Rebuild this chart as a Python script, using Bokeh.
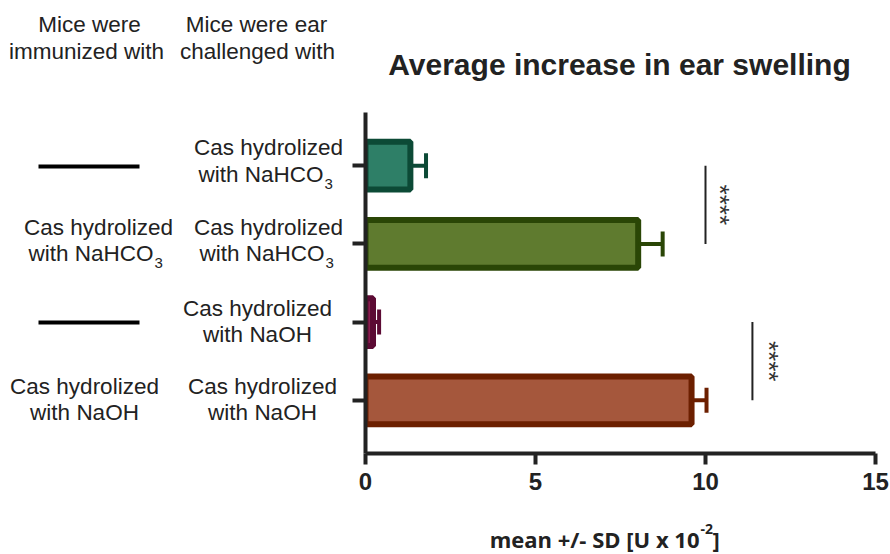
import math
from bokeh.plotting import figure
from bokeh.layouts import column, row
from bokeh.models import Range1d, FixedTicker
from bokeh.core.properties import value
from bokeh.embed import file_html
from bokeh.resources import INLINE

# ---------------- data ----------------
title_text = "Average increase in ear swelling"
header_immunized = ["Mice were", "immunized with"]
header_challenged = ["Mice were ear", "challenged with"]
immunized = ["-", "NaHCO", "-", "NaOH"]          # "-" = not immunized (drawn as a dash)
challenged = ["NaHCO", "NaHCO", "NaOH", "NaOH"]
ypos = [3, 2, 1, 0]
means = [1.32, 8.02, 0.22, 9.59]
sds = [0.46, 0.72, 0.18, 0.44]
fill_colors = ["#2e7f67", "#5f7b2f", "#8a1e4e", "#a5573c"]
line_colors = ["#0c4a36", "#2a4606", "#5c0b34", "#6c1f00"]
x_ticks = [0, 5, 10, 15]
x_title = "mean +/- SD [U x 10"
x_title_sup = "-2"
sig_pairs = [(3, 2, 10.0, 10.42), (1, 0, 11.38, 11.88)]
sig_text = "****"

FONT = "Liberation Sans"
TXT = "#222222"
AX = "#222222"
W, H = 890, 554
TOP, SPLIT, BOT = 112, 345, 509   # top strip height, left panel width, bottom strip start
FRAME_BOTTOM = 453


def blank(width, height, x0, x1, y0, y1, border_bottom=0):
    f = figure(width=width, height=height, output_backend="svg", toolbar_location=None,
               x_range=Range1d(x0, x1), y_range=Range1d(y1, y0),
               min_border=0, min_border_bottom=border_bottom,
               x_axis_type=None, y_axis_type=None)
    f.title.visible = False
    f.outline_line_color = None
    f.xgrid.visible = False
    f.ygrid.visible = False
    return f


def txt(f, x, y, s, size=22.5, align="center", style="normal", font=FONT, color=TXT):
    # y is the wanted baseline in page pixels
    f.text(x=[x], y=[y - 0.38 * size], text=[s], text_align=align,
           text_baseline="alphabetic", text_font=value(font),
           text_font_size="%spx" % size, text_font_style=style, text_color=color)


# ---------------- top strip: title + column headers ----------------
top = blank(W, TOP, 0, W, 0, TOP)
txt(top, 619, 75, title_text, size=30, style="bold")
txt(top, 89, 33, header_immunized[0])
txt(top, 86, 60, header_immunized[1])
txt(top, 256, 33, header_challenged[0])
txt(top, 257, 60, header_challenged[1])

# ---------------- left panel: group descriptions ----------------
left = blank(SPLIT, BOT - TOP, 0, SPLIT, TOP, FRAME_BOTTOM, border_bottom=BOT - FRAME_BOTTOM)
col2_cx = [268, 268, 257, 262]
col1_cx = [98, 98, 84, 84]
base1 = [156, 236, 317, 395]
base2 = [183, 262, 343, 421]
sub_end2 = [323, 324, None, None]
sub_end1 = [None, 153, None, None]
row_px = [166, 244, 322, 400]


def two_line(kind, cx, b1, b2, sub_end):
    txt(left, cx, b1, "Cas hydrolized")
    if kind == "NaHCO":
        txt(left, sub_end, b2, "with NaHCO", align="right")
        txt(left, sub_end + 1, b2 + 6, "3", size=15, align="left")
    else:
        txt(left, cx, b2, "with NaOH")


for i in range(4):
    two_line(challenged[i], col2_cx[i], base1[i], base2[i], sub_end2[i])
    if immunized[i] == "-":
        left.segment(x0=[38], y0=[row_px[i]], x1=[139], y1=[row_px[i]],
                     line_width=4, line_color="#000000")
    else:
        two_line(immunized[i], col1_cx[i], base1[i], base2[i], sub_end1[i])

# ---------------- chart ----------------
p = figure(width=W - SPLIT, height=BOT - TOP, output_backend="svg", toolbar_location=None,
           x_range=Range1d(0, 15), y_range=Range1d(-0.68, 3.68),
           min_border_left=365 - SPLIT, min_border_right=15, min_border_top=0,
           min_border_bottom=BOT - FRAME_BOTTOM)
p.title.visible = False
p.outline_line_color = None
p.xgrid.visible = False
p.ygrid.visible = False

xa = p.xaxis[0]
xa.ticker = FixedTicker(ticks=x_ticks)
xa.axis_line_width = 4
xa.axis_line_color = AX
xa.major_tick_line_width = 4
xa.major_tick_line_color = AX
xa.major_tick_out = 11
xa.major_tick_in = 0
xa.minor_tick_line_color = None
xa.major_label_text_font = FONT
xa.major_label_text_font_style = "bold"
xa.major_label_text_font_size = "24px"
xa.major_label_text_color = AX
xa.major_label_standoff = 8

ya = p.yaxis[0]
ya.ticker = FixedTicker(ticks=ypos)
ya.axis_line_width = 4
ya.axis_line_color = AX
ya.major_tick_line_width = 4
ya.major_tick_line_color = AX
ya.major_tick_out = 13
ya.major_tick_in = 0
ya.minor_tick_line_color = None
ya.major_label_text_font_size = "0px"
ya.major_label_standoff = 0
ya.major_label_overrides = {y: "" for y in ypos}

ends = [m + s for m, s in zip(means, sds)]
p.hbar(y=ypos, left=0, right=means, height=0.61, fill_color=fill_colors,
       line_color=line_colors, line_width=6)
p.segment(x0=means, y0=ypos, x1=ends, y1=ypos, line_color=line_colors, line_width=4)
p.segment(x0=ends, y0=[y - 0.16 for y in ypos], x1=ends, y1=[y + 0.16 for y in ypos],
          line_color=line_colors, line_width=4)

for ya_, yb_, xs, xt in sig_pairs:
    p.segment(x0=[xs], y0=[ya_], x1=[xs], y1=[yb_], line_color=AX, line_width=2)
    p.text(x=[xt], y=[(ya_ + yb_) / 2], text=[sig_text], angle=-math.pi / 2,
           text_align="center", text_baseline="middle", text_font=value(FONT),
           text_font_size="26px", text_color="#333333")

# ---------------- bottom strip: x axis title ----------------
bot = blank(W, H - BOT, 0, W, BOT, H)
txt(bot, 699, 547, x_title, size=22, align="right", style="bold", font="Open Sans")
txt(bot, 700, 534, x_title_sup, size=14, align="left", style="bold", font="Open Sans")
txt(bot, 712, 547, "]", size=22, align="left", style="bold", font="Open Sans")

layout = column(top, row(left, p), bot)
open("out.html", "w").write(file_html(layout, INLINE))
